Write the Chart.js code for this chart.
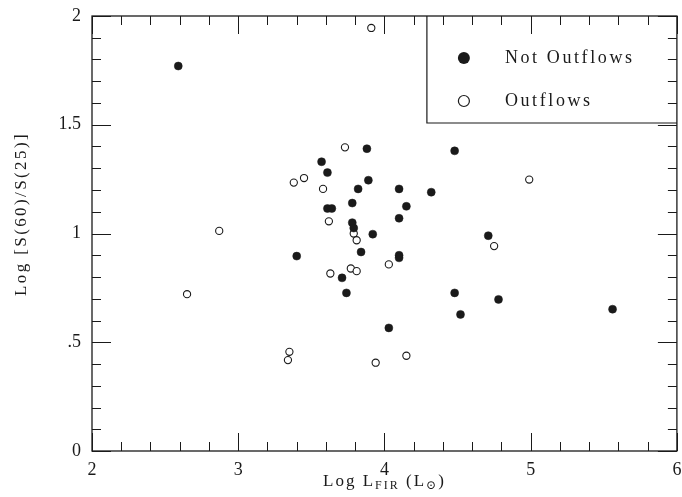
<!DOCTYPE html>
<html>
<head>
<meta charset="utf-8">
<script src="https://cdn.jsdelivr.net/npm/chart.js@4/dist/chart.umd.min.js"></script>
<style>
  html, body { margin: 0; padding: 0; background: #fff; }
  #wrap { width: 682px; height: 497px; position: relative; }
</style>
</head>
<body>
<div id="wrap"><canvas id="c" width="682" height="497"></canvas></div>
<script>
// ---- data ----
const notOutflowX = [2.59, 4.48, 3.57, 3.61, 3.61, 3.64, 3.88, 3.89, 3.82, 4.10, 4.32, 3.78, 4.15, 4.10, 3.78, 3.79, 3.92, 4.71, 3.84, 4.10, 4.10, 3.71, 3.74, 4.48, 4.52, 4.03, 4.78, 5.56, 3.40];
const notOutflowY = [1.77, 1.38, 1.33, 1.28, 1.115, 1.115, 1.39, 1.245, 1.205, 1.205, 1.19, 1.14, 1.125, 1.07, 1.05, 1.025, 0.997, 0.99, 0.915, 0.90, 0.888, 0.796, 0.727, 0.727, 0.628, 0.566, 0.697, 0.652, 0.896];
const outflowX = [3.91, 3.73, 3.38, 3.45, 3.58, 3.62, 2.87, 3.79, 3.81, 4.75, 3.63, 3.77, 3.81, 4.03, 4.99, 2.65, 3.35, 3.34, 3.94, 4.15];
const outflowY = [1.945, 1.396, 1.234, 1.255, 1.205, 1.056, 1.012, 1.0, 0.969, 0.942, 0.816, 0.839, 0.827, 0.858, 1.248, 0.721, 0.456, 0.418, 0.406, 0.438];
const seriesNames = ['Not Outflows', 'Outflows'];
const xTickValues = [2, 3, 4, 5, 6];
const yTickLabels = {0: '0', 0.5: '.5', 1: '1', 1.5: '1.5', 2: '2'};
const xTitleParts = ['Log L', 'FIR', ' (L', '\u2299', ')'];
const yTitle = 'Log [S(60)/S(25)]';

const INK = '#1a1a1a';
const SERIF = '"Liberation Serif", "DejaVu Serif", serif';

function pts(xs, ys) { return xs.map((x, i) => ({x: x, y: ys[i]})); }

const framePlugin = {
  id: 'frame',
  afterDraw(chart) {
    const ctx = chart.ctx;
    const a = chart.chartArea;
    const xs = chart.scales.x, ys = chart.scales.y;
    ctx.save();
    ctx.strokeStyle = INK;
    ctx.lineWidth = 1.3;
    ctx.strokeRect(a.left, a.top, a.right - a.left, a.bottom - a.top);
    ctx.lineWidth = 1;
    ctx.beginPath();
    for (let k = 0; k <= 20; k++) {
      const v = 2 + k * 0.2;
      const px = Math.round(xs.getPixelForValue(v)) + 0.5;
      const len = (k % 5 === 0) ? 18 : 9;
      ctx.moveTo(px, a.bottom); ctx.lineTo(px, a.bottom - len);
      ctx.moveTo(px, a.top); ctx.lineTo(px, a.top + len);
    }
    for (let k = 0; k <= 20; k++) {
      const v = k * 0.1;
      const py = Math.round(ys.getPixelForValue(v)) + 0.5;
      const len = (k % 5 === 0) ? 19 : 9;
      ctx.moveTo(a.left, py); ctx.lineTo(a.left + len, py);
      ctx.moveTo(a.right, py); ctx.lineTo(a.right - len, py);
    }
    ctx.stroke();

    // legend box
    const bx = a.right - 250, by = a.top, bb = a.top + 107;
    ctx.lineWidth = 1.2;
    ctx.beginPath();
    ctx.moveTo(bx, by); ctx.lineTo(bx, bb); ctx.lineTo(a.right, bb);
    ctx.stroke();
    ctx.fillStyle = INK;
    ctx.beginPath(); ctx.arc(bx + 37, by + 42, 6, 0, Math.PI * 2); ctx.fill();
    ctx.lineWidth = 1.2;
    ctx.beginPath(); ctx.arc(bx + 37, by + 85, 5.5, 0, Math.PI * 2); ctx.stroke();
    ctx.font = '18px ' + SERIF;
    ctx.letterSpacing = '2.6px';
    ctx.textBaseline = 'middle';
    ctx.textAlign = 'left';
    ctx.fillText(seriesNames[0], bx + 78, by + 42);
    ctx.fillText(seriesNames[1], bx + 78, by + 85);

    // x title with subscripts
    const big = '17px ' + SERIF, small = '12px ' + SERIF;
    ctx.letterSpacing = '2px';
    const fonts = [big, small, big, small, big];
    const offs = [0, 3, 0, 3, 0];
    let total = 0;
    const widths = xTitleParts.map((t, i) => { ctx.font = fonts[i]; const w = ctx.measureText(t).width; total += w; return w; });
    let cx = (a.left + a.right) / 2 - total / 2;
    ctx.textBaseline = 'alphabetic';
    xTitleParts.forEach((t, i) => {
      ctx.font = fonts[i];
      ctx.fillText(t, cx, 486 + offs[i]);
      cx += widths[i];
    });

    // y title
    ctx.font = big;
    ctx.letterSpacing = '2.4px';
    ctx.translate(26, 214);
    ctx.rotate(-Math.PI / 2);
    ctx.textAlign = 'center';
    ctx.fillText(yTitle, 0, 0);
    ctx.restore();
  }
};

new Chart(document.getElementById('c'), {
  type: 'scatter',
  data: {
    datasets: [
      {
        label: seriesNames[0],
        data: pts(notOutflowX, notOutflowY),
        pointRadius: 4,
        pointBackgroundColor: INK,
        pointBorderColor: INK,
        pointBorderWidth: 0.5
      },
      {
        label: seriesNames[1],
        data: pts(outflowX, outflowY),
        pointRadius: 3.6,
        pointBackgroundColor: '#fff',
        pointBorderColor: INK,
        pointBorderWidth: 1.1
      }
    ]
  },
  options: {
    responsive: false,
    animation: false,
    devicePixelRatio: 1,
    layout: { padding: { top: 16, right: 4, left: 0, bottom: 0 } },
    plugins: { legend: { display: false }, tooltip: { enabled: false } },
    scales: {
      x: {
        type: 'linear', min: 2, max: 6,
        afterBuildTicks: (s) => { s.ticks = xTickValues.map(v => ({value: v})); },
        afterFit: (s) => { s.height = 46; s.paddingLeft = 0; s.paddingRight = 0; },
        grid: { display: false, drawTicks: false },
        border: { display: false },
        ticks: { color: INK, font: { family: SERIF, size: 18 }, padding: 8, maxRotation: 0 }
      },
      y: {
        type: 'linear', min: 0, max: 2,
        afterBuildTicks: (s) => { s.ticks = Object.keys(yTickLabels).map(v => ({value: Number(v)})); },
        afterFit: (s) => { s.width = 92; s.paddingTop = 0; s.paddingBottom = 0; },
        grid: { display: false, drawTicks: false },
        border: { display: false },
        ticks: { color: INK, font: { family: SERIF, size: 18 }, padding: 11,
                 callback: (v) => yTickLabels[v] }
      }
    }
  },
  plugins: [framePlugin]
});
</script>
</body>
</html>
